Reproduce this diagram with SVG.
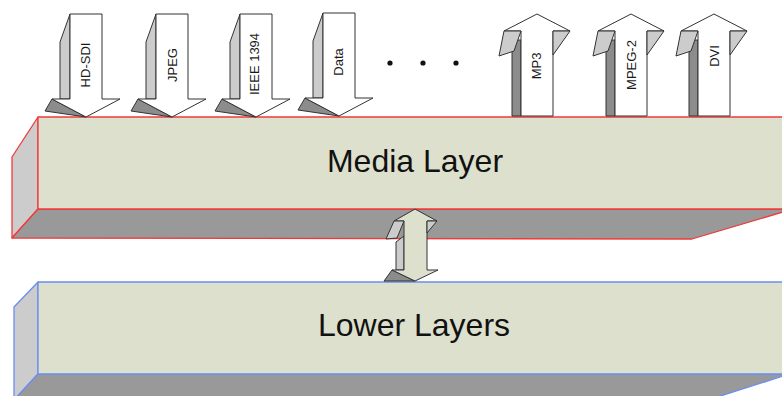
<svg xmlns="http://www.w3.org/2000/svg" width="782" height="396" viewBox="0 0 782 396">
<defs>
<style>
.front{fill:#dde0cc}
.bottom{fill:#999999}
.side{fill:#cccccc}
.red{stroke:#f03a3a;stroke-width:1.3;stroke-linejoin:round}
.blue{stroke:#6a8ef0;stroke-width:1.3;stroke-linejoin:round}
.ar{stroke:#333333;stroke-width:1;stroke-linejoin:round}
.w{fill:#ffffff}
.lg{fill:#cccccc}
.dg{fill:#8c8c8c}
.bg{fill:#dde0cc}
.lbl{font-family:"Liberation Sans",Arial,sans-serif;font-size:13px;fill:#1a1a1a;text-anchor:middle;dominant-baseline:central}
.big{font-family:"Liberation Sans",Arial,sans-serif;font-size:32px;fill:#111111;text-anchor:middle}
</style>
</defs>
<rect width="782" height="396" fill="#ffffff"/>

<g id="media-layer">
<polygon class="side red" points="38,117 12,157 12,238 38,209"/>
<polygon class="bottom red" points="12,238 38,209 783,209 783,212 692,239"/>
<polygon class="front red" points="38,117 783,117 783,209 38,209"/>
<text class="big" x="415" y="172">Media Layer</text>
</g>

<g id="lower-layers">
<polygon class="side blue" points="38,282 14,307 14,400 38,374"/>
<polygon class="bottom blue" points="14,400 38,374 783,374 783,376 708,400"/>
<polygon class="front blue" points="38,282 783,282 783,374 38,374"/>
<text class="big" x="414" y="336">Lower Layers</text>
</g>

<g id="arrow-hdsdi">
<polygon class="lg ar" points="70,14 60,42 60,99 70,99"/>
<polygon class="dg ar" points="52,99 86,117 45,111"/>
<polygon class="w ar" points="70,14 102,14 102,99 120,99 86,117 52,99 70,99"/>
<text class="lbl" transform="translate(85,65) rotate(-90)">HD-SDI</text>
</g>

<g id="arrow-jpeg">
<polygon class="lg ar" points="156,14 146,42 146,99 156,99"/>
<polygon class="dg ar" points="138,99 172,117 131,111"/>
<polygon class="w ar" points="156,14 188,14 188,99 206,99 172,117 138,99 156,99"/>
<text class="lbl" transform="translate(172,65) rotate(-90)">JPEG</text>
</g>

<g id="arrow-ieee1394">
<polygon class="lg ar" points="240,14 230,42 230,99 240,99"/>
<polygon class="dg ar" points="222,99 256,117 215,111"/>
<polygon class="w ar" points="240,14 272,14 272,99 290,99 256,117 222,99 240,99"/>
<text class="lbl" transform="translate(254,64) rotate(-90)">IEEE 1394</text>
</g>

<g id="arrow-data">
<polygon class="lg ar" points="323,13 313,41 313,98 323,98"/>
<polygon class="dg ar" points="305,98 339,116 298,110"/>
<polygon class="w ar" points="323,13 355,13 355,98 373,98 339,116 305,98 323,98"/>
<text class="lbl" transform="translate(338,62) rotate(-90)">Data</text>
</g>

<g id="ellipsis">
<circle cx="390" cy="63" r="2.6" fill="#111"/>
<circle cx="423" cy="63" r="2.6" fill="#111"/>
<circle cx="456" cy="63" r="2.6" fill="#111"/>
</g>

<g id="arrow-mp3">
<rect class="dg ar" x="512" y="40" width="9" height="76"/>
<polygon class="w ar" points="521,116 553,116 553,31 570,31 537,14 504,31 521,31"/>
<polygon class="lg ar" points="504,31 521,31 514,51 499,56"/>
<polygon class="lg ar" points="553,31 570,31 553,55"/>
<text class="lbl" transform="translate(536,66) rotate(-90)">MP3</text>
</g>

<g id="arrow-mpeg2">
<rect class="dg ar" x="606" y="40" width="9" height="76"/>
<polygon class="w ar" points="615,116 647,116 647,31 664,31 631,14 598,31 615,31"/>
<polygon class="lg ar" points="598,31 615,31 608,51 593,56"/>
<polygon class="lg ar" points="647,31 664,31 647,55"/>
<text class="lbl" transform="translate(631,65) rotate(-90)">MPEG-2</text>
</g>

<g id="arrow-dvi">
<rect class="dg ar" x="689" y="40" width="9" height="76"/>
<polygon class="w ar" points="698,116 730,116 730,31 747,31 714,14 681,31 698,31"/>
<polygon class="lg ar" points="681,31 698,31 691,51 676,56"/>
<polygon class="lg ar" points="730,31 747,31 730,55"/>
<text class="lbl" transform="translate(714,56) rotate(-90)">DVI</text>
</g>

<g id="connectors">
<g id="media-lower-link">
<polygon class="lg ar" points="404,236 396,242 396,270 404,270"/>
<polygon class="dg ar" points="392,270 415,281 384,281"/>
<polygon class="bg ar" points="404,221 394,221 415,209 437,221 427,221 427,270 438,270 415,281 392,270 404,270"/>
<polygon class="lg ar" points="394,221 404,221 397,238 386,239"/>
<polygon class="lg ar" points="427,221 437,221 427,233"/>
</g>
</g>
</svg>
